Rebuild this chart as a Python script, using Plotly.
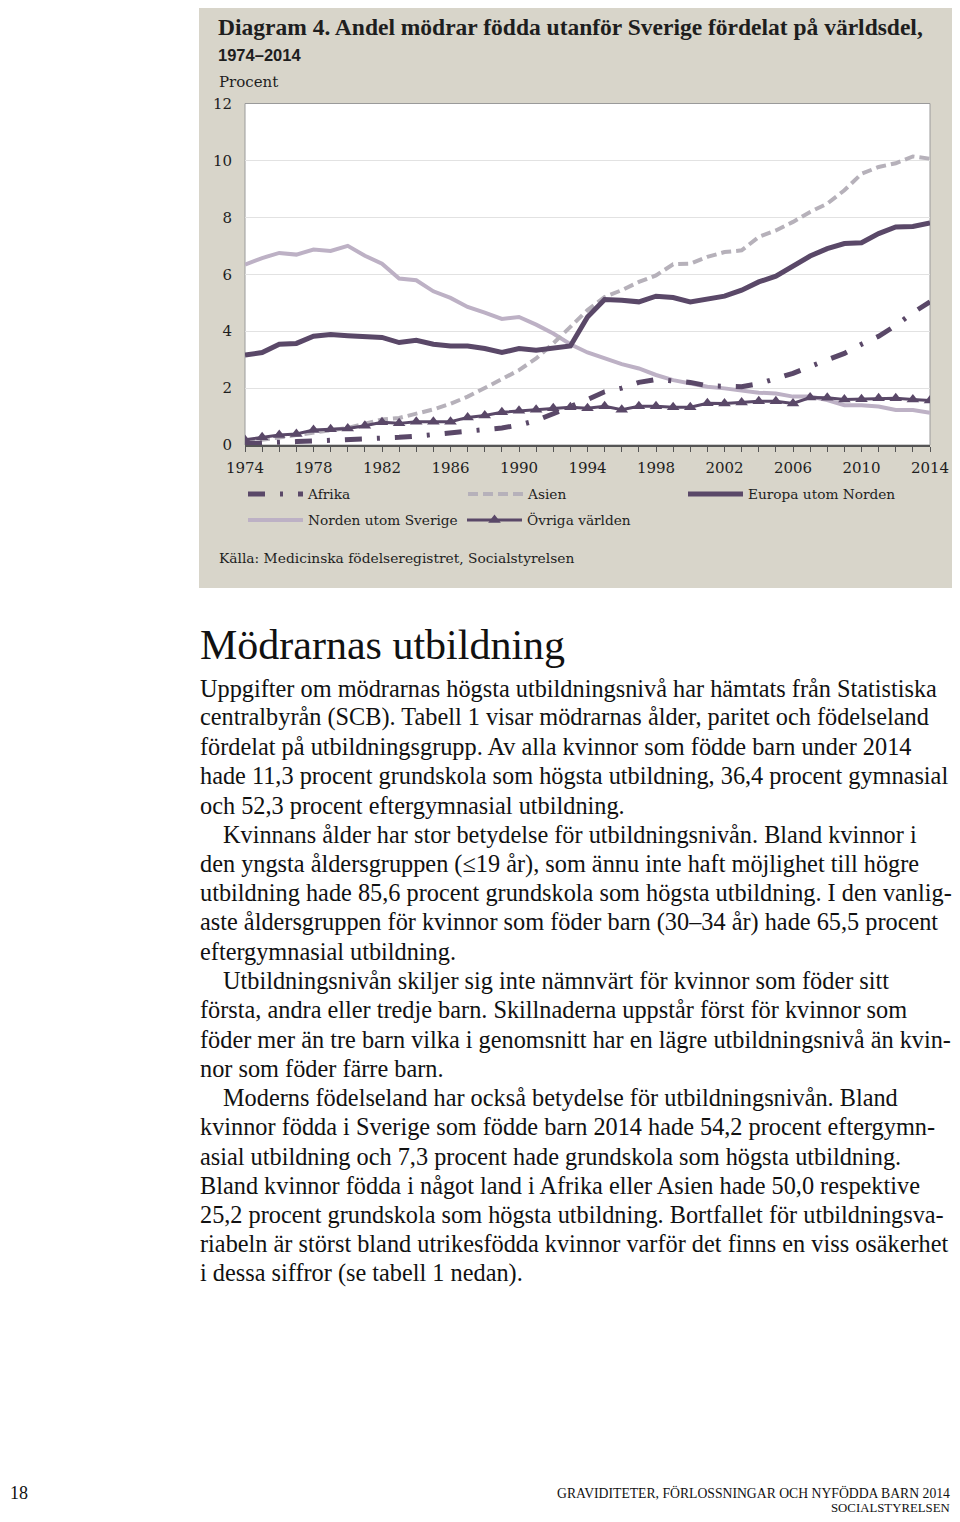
import plotly.graph_objects as go

# ---------------- data ----------------
years = list(range(1974, 2015))
tick_years = list(range(1974, 2015, 4))
y_ticks = [0, 2, 4, 6, 8, 10, 12]

afrika = [0.05, 0.06, 0.08, 0.12, 0.14, 0.16, 0.18, 0.21, 0.25, 0.27,
          0.31, 0.36, 0.43, 0.47, 0.53, 0.60, 0.70, 0.86, 1.10, 1.33,
          1.60, 1.87, 2.00, 2.20, 2.30, 2.25, 2.20, 2.08, 2.05, 2.05,
          2.15, 2.32, 2.52, 2.76, 2.98, 3.22, 3.54, 3.82, 4.20, 4.65,
          5.03]
asien = [0.10, 0.18, 0.26, 0.33, 0.42, 0.50, 0.60, 0.75, 0.90, 0.95,
         1.10, 1.25, 1.45, 1.70, 2.00, 2.30, 2.63, 3.04, 3.57, 4.15,
         4.74, 5.20, 5.44, 5.73, 5.96, 6.35, 6.37, 6.61, 6.78, 6.84,
         7.31, 7.54, 7.84, 8.19, 8.48, 8.95, 9.53, 9.77, 9.90, 10.14,
         10.06]
europa = [3.16, 3.25, 3.54, 3.57, 3.82, 3.88, 3.84, 3.80, 3.78, 3.60,
          3.68, 3.54, 3.48, 3.48, 3.39, 3.25, 3.39, 3.33, 3.41, 3.48,
          4.50, 5.11, 5.09, 5.03, 5.23, 5.18, 5.03, 5.11, 5.23, 5.44,
          5.73, 5.93, 6.28, 6.64, 6.90, 7.08, 7.11, 7.43, 7.66, 7.68,
          7.80]
norden = [6.34, 6.57, 6.75, 6.69, 6.87, 6.82, 7.00, 6.65, 6.37, 5.85,
          5.79, 5.40, 5.17, 4.85, 4.65, 4.43, 4.50, 4.23, 3.92, 3.54,
          3.25, 3.04, 2.84, 2.69, 2.46, 2.28, 2.16, 2.05, 1.99, 1.90,
          1.84, 1.81, 1.70, 1.70, 1.58, 1.40, 1.40, 1.35, 1.23, 1.23,
          1.13]
ovriga = [0.18, 0.27, 0.35, 0.39, 0.53, 0.55, 0.58, 0.68, 0.80, 0.76,
          0.82, 0.82, 0.82, 0.97, 1.04, 1.15, 1.20, 1.24, 1.29, 1.33,
          1.29, 1.36, 1.24, 1.36, 1.36, 1.33, 1.33, 1.47, 1.46, 1.49,
          1.54, 1.54, 1.46, 1.67, 1.66, 1.60, 1.61, 1.64, 1.64, 1.60,
          1.56]

series_names = ["Afrika", "Asien", "Europa utom Norden",
                "Norden utom Sverige", "Övriga världen"]

title_1 = "Diagram 4. Andel mödrar födda utanför Sverige fördelat på världsdel,"
title_2 = "1974–2014"
y_title = "Procent"
source = "Källa: Medicinska födelseregistret, Socialstyrelsen"
heading = "Mödrarnas utbildning"
body_lines = [
    ("Uppgifter om mödrarnas högsta utbildningsnivå har hämtats från Statistiska", False),
    ("centralbyrån (SCB). Tabell 1 visar mödrarnas ålder, paritet och födelseland", False),
    ("fördelat på utbildningsgrupp. Av alla kvinnor som födde barn under 2014", False),
    ("hade 11,3 procent grundskola som högsta utbildning, 36,4 procent gymnasial", False),
    ("och 52,3 procent eftergymnasial utbildning.", False),
    ("Kvinnans ålder har stor betydelse för utbildningsnivån. Bland kvinnor i", True),
    ("den yngsta åldersgruppen (≤19 år), som ännu inte haft möjlighet till högre", False),
    ("utbildning hade 85,6 procent grundskola som högsta utbildning. I den vanlig-", False),
    ("aste åldersgruppen för kvinnor som föder barn (30–34 år) hade 65,5 procent", False),
    ("eftergymnasial utbildning.", False),
    ("Utbildningsnivån skiljer sig inte nämnvärt för kvinnor som föder sitt", True),
    ("första, andra eller tredje barn. Skillnaderna uppstår först för kvinnor som", False),
    ("föder mer än tre barn vilka i genomsnitt har en lägre utbildningsnivå än kvin-", False),
    ("nor som föder färre barn.", False),
    ("Moderns födelseland har också betydelse för utbildningsnivån. Bland", True),
    ("kvinnor födda i Sverige som födde barn 2014 hade 54,2 procent eftergymn-", False),
    ("asial utbildning och 7,3 procent hade grundskola som högsta utbildning.", False),
    ("Bland kvinnor födda i något land i Afrika eller Asien hade 50,0 respektive", False),
    ("25,2 procent grundskola som högsta utbildning. Bortfallet för utbildningsva-", False),
    ("riabeln är störst bland utrikesfödda kvinnor varför det finns en viss osäkerhet", False),
    ("i dessa siffror (se tabell 1 nedan).", False),
]
footer_page = "18"
footer_1 = "GRAVIDITETER, FÖRLOSSNINGAR OCH NYFÖDDA BARN 2014"
footer_2 = "SOCIALSTYRELSEN"

# ---------------- layout helpers ----------------
# the page body has an 8 px margin; the figure is sized to fit inside the window
OFF = 8
W, H = 944, 1506
def fx(px):
    return (px - OFF) / W
def fy(py):
    return 1 - (py - OFF) / H

DARK = "#5a4868"
LIGHT_LILAC = "#bdb1c5"
LIGHT_GRAY = "#b6b1ba"
BOX = "#d8d5ca"
TXT = "#1e1e1e"
CHART_FONT = "DejaVu Serif"
BODY_FONT = "Liberation Serif"

fig = go.Figure()

fig.add_trace(go.Scatter(x=years, y=norden, name=series_names[3], mode="lines",
                         line=dict(color=LIGHT_LILAC, width=4), legend="legend4"))
fig.add_trace(go.Scatter(x=years, y=asien, name=series_names[1], mode="lines",
                         line=dict(color=LIGHT_GRAY, width=4, dash="10px,5px"), legend="legend2"))
fig.add_trace(go.Scatter(x=years, y=afrika, name=series_names[0], mode="lines",
                         line=dict(color=DARK, width=5, dash="17px,15px,3px,15px"), legend="legend"))
fig.add_trace(go.Scatter(x=years, y=europa, name=series_names[2], mode="lines",
                         line=dict(color=DARK, width=5), legend="legend3"))
fig.add_trace(go.Scatter(x=years, y=ovriga, name=series_names[4], mode="lines+markers",
                         line=dict(color=DARK, width=3),
                         marker=dict(symbol="triangle-up", size=11, color=DARK),
                         legend="legend5"))

shapes = [
    dict(type="rect", xref="paper", yref="paper", x0=fx(199), x1=1.0,
         y0=fy(588), y1=fy(6), fillcolor=BOX, line=dict(width=0), layer="below"),
    dict(type="rect", xref="x domain", yref="y domain", x0=0, x1=1, y0=0, y1=1,
         fillcolor="white", line=dict(width=1, color="#9a9a9a"), layer="below"),
]

ann = []
def text(s, x, y, size, family=CHART_FONT, xanchor="left", color=TXT):
    ann.append(dict(text=s, x=fx(x), y=fy(y), xref="paper", yref="paper",
                    xanchor=xanchor, yanchor="middle", showarrow=False,
                    font=dict(family=family, size=size, color=color)))

text("<b>" + title_1 + "</b>", 216, 27, 23.5, family=BODY_FONT)
text("<b>" + title_2 + "</b>", 216, 55, 16.5, family="Liberation Sans")
text(y_title, 217, 82, 15)
text(source, 217, 558, 13.8)

text(heading, 198, 645, 42, family=BODY_FONT, color="#111")
line_y0, line_dy = 688, 29.25
for i, (s, indent) in enumerate(body_lines):
    text(s, 221 if indent else 198, line_y0 + i * line_dy, 24.3, family=BODY_FONT, color="#111")

text(footer_page, 8, 1493, 18, family=BODY_FONT, color="#111")
text(footer_1, 952, 1493, 13.7, family=BODY_FONT, xanchor="right", color="#111")
text(footer_2, 952, 1508, 12.8, family=BODY_FONT, xanchor="right", color="#111")

def leg(text_x, row_y):
    return dict(orientation="h", x=fx(text_x - 65), y=fy(row_y),
                xanchor="left", yanchor="middle", itemwidth=55,
                bgcolor="rgba(0,0,0,0)", borderwidth=0,
                font=dict(family=CHART_FONT, size=13.7, color=TXT))

fig.update_layout(
    width=W, height=H,
    margin=dict(l=0, r=0, t=0, b=0, autoexpand=False),
    paper_bgcolor="white", plot_bgcolor="white",
    font=dict(family=CHART_FONT, size=13.5, color=TXT),
    shapes=shapes, annotations=ann,
    showlegend=True,
    legend=leg(308, 494),
    legend2=leg(528, 494),
    legend3=leg(748, 494),
    legend4=leg(308, 520),
    legend5=leg(527, 520),
    xaxis=dict(domain=[fx(245), fx(930)], range=[1974, 2014],
               tickvals=tick_years, ticks="outside", ticklen=5, tickcolor="#555",
               minor=dict(dtick=1, tick0=1974, ticks="outside", ticklen=5, tickcolor="#555"),
               showgrid=False, zeroline=False, showline=True, linecolor="#555", linewidth=1.5,
               ticklabelstandoff=3, tickfont=dict(size=15), automargin=False),
    yaxis=dict(domain=[fy(445), fy(103.5)], range=[0, 12], tickvals=y_ticks,
               showgrid=True, gridcolor="#e2e2e2", gridwidth=1, zeroline=False,
               showline=False, ticks="", ticklabelstandoff=12, tickfont=dict(size=15),
               automargin=False),
)

fig.write_html("out.html")
